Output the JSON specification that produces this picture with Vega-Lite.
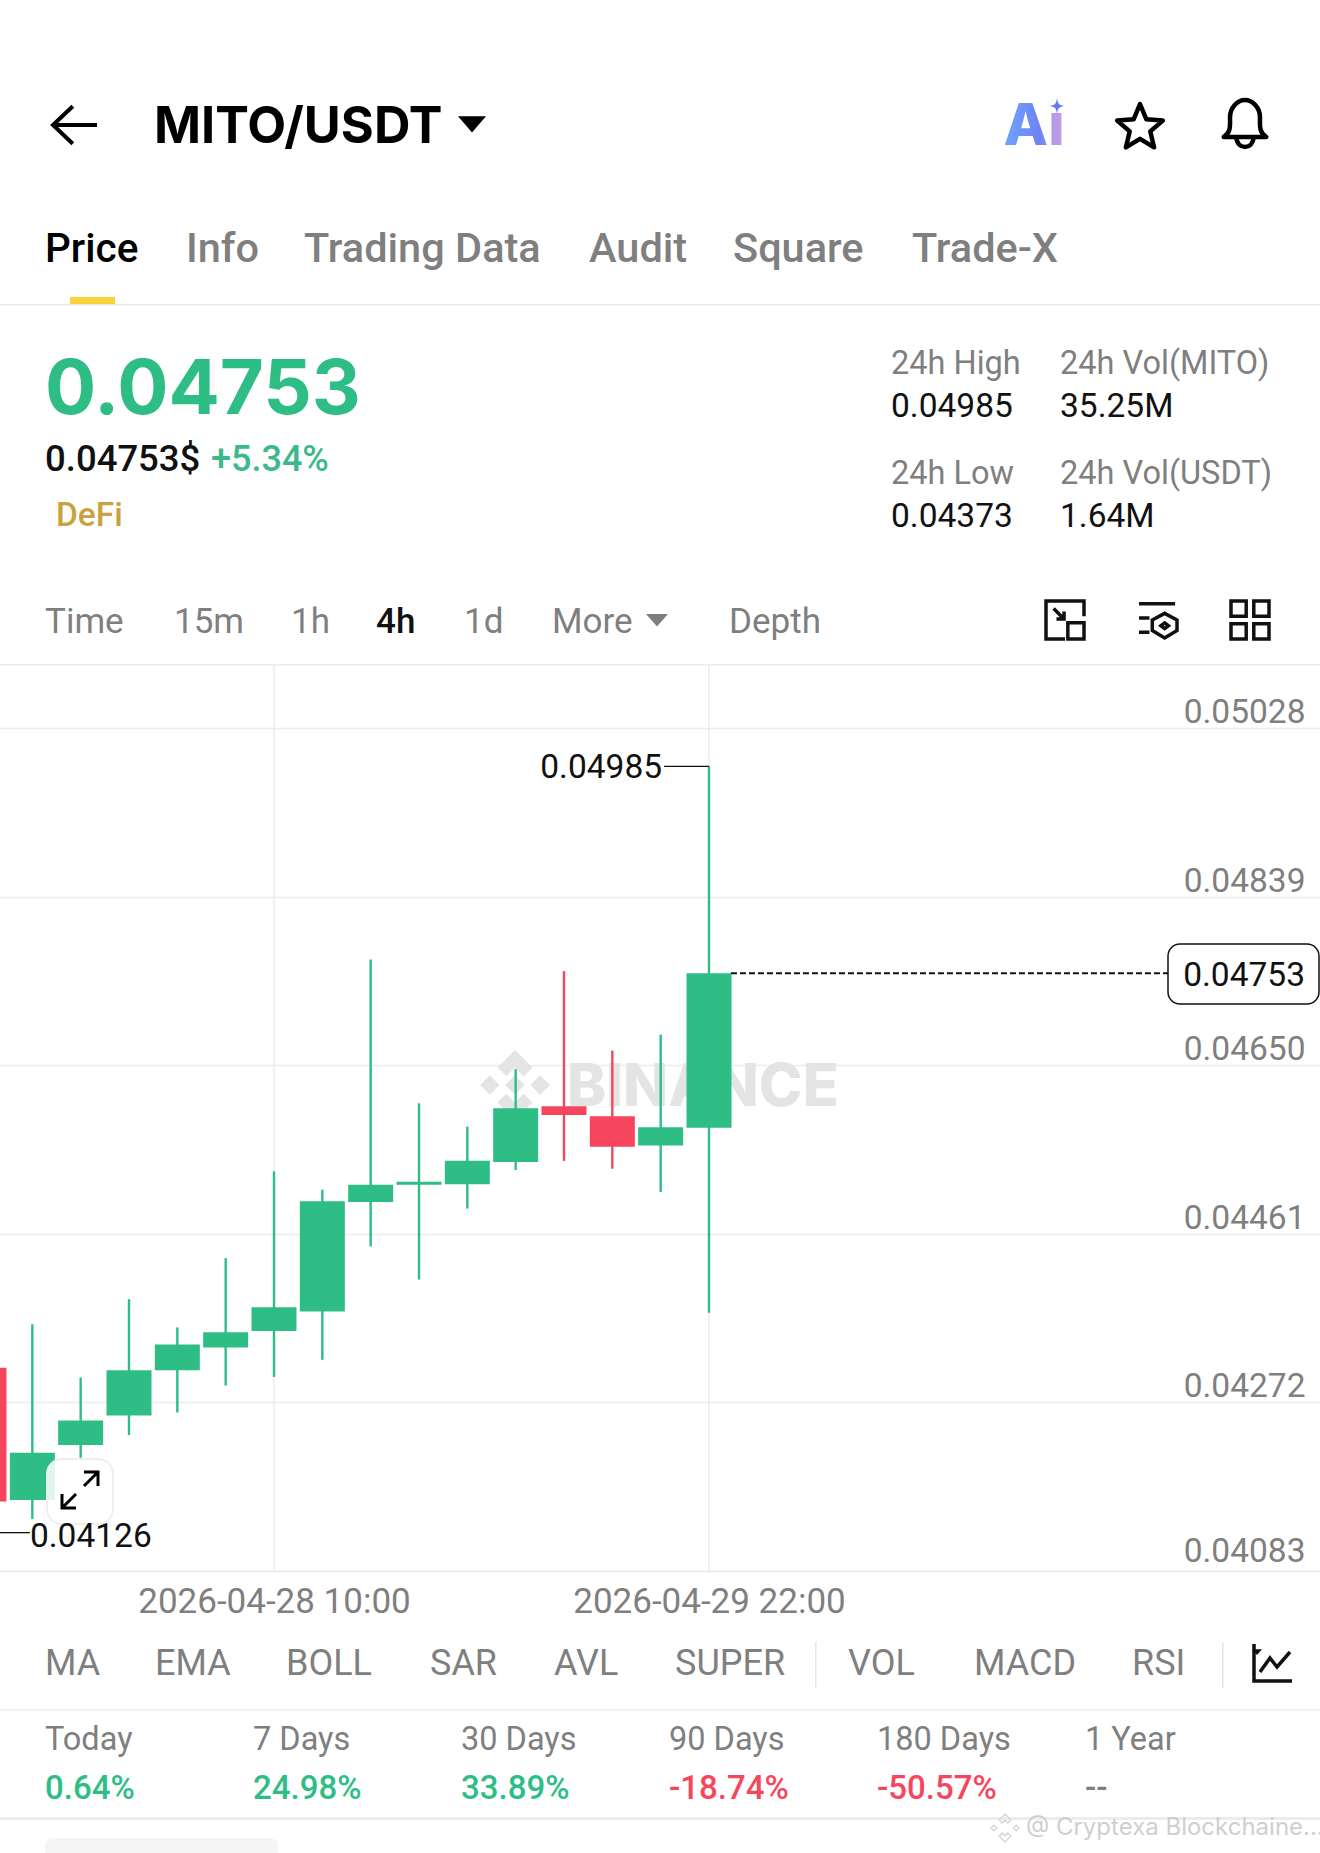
{"$schema":"https://vega.github.io/schema/vega-lite/v6.json","width":1320,"height":1853,"autosize":"none","padding":0,"background":"#ffffff","view":{"stroke":null},
"config":{"style":{
"tab":{"font":"Roboto","fontSize":41.5,"fontWeight":500,"align":"left","baseline":"middle"},
"row":{"font":"Roboto","fontSize":36,"fontWeight":400,"align":"left","baseline":"middle"},
"time":{"font":"Roboto","fontSize":35,"fontWeight":400,"align":"left","baseline":"middle"},
"gray":{"font":"Roboto","fontSize":32.5,"fontWeight":400,"align":"left","baseline":"middle"},
"small":{"font":"Roboto","fontSize":33.5,"fontWeight":400,"align":"left","baseline":"middle"}}},
"data":{"values":[{"screen":"MITO/USDT"}]},
"datasets":{
"candles":[
{"time":"2026-04-27T10:00:00Z","open":0.04311,"high":0.04330,"low":0.04126,"close":0.04161,"dir":"down"},
{"time":"2026-04-27T14:00:00Z","open":0.041626,"high":0.043596,"low":0.041413,"close":0.042155,"dir":"up"},
{"time":"2026-04-27T18:00:00Z","open":0.042244,"high":0.042999,"low":0.0421,"close":0.042518,"dir":"up"},
{"time":"2026-04-27T22:00:00Z","open":0.042573,"high":0.043877,"low":0.042354,"close":0.043081,"dir":"up"},
{"time":"2026-04-28T02:00:00Z","open":0.043081,"high":0.043561,"low":0.042607,"close":0.043369,"dir":"up"},
{"time":"2026-04-28T06:00:00Z","open":0.043335,"high":0.044337,"low":0.042909,"close":0.043506,"dir":"up"},
{"time":"2026-04-28T10:00:00Z","open":0.04352,"high":0.045311,"low":0.043005,"close":0.043788,"dir":"up"},
{"time":"2026-04-28T14:00:00Z","open":0.04374,"high":0.045105,"low":0.043198,"close":0.044975,"dir":"up"},
{"time":"2026-04-28T18:00:00Z","open":0.044968,"high":0.047686,"low":0.044467,"close":0.04516,"dir":"up"},
{"time":"2026-04-28T22:00:00Z","open":0.04516,"high":0.046073,"low":0.044097,"close":0.045195,"dir":"up"},
{"time":"2026-04-29T02:00:00Z","open":0.045167,"high":0.045812,"low":0.044893,"close":0.045428,"dir":"up"},
{"time":"2026-04-29T06:00:00Z","open":0.045414,"high":0.046457,"low":0.045325,"close":0.046018,"dir":"up"},
{"time":"2026-04-29T10:00:00Z","open":0.046039,"high":0.047555,"low":0.045428,"close":0.045943,"dir":"down"},
{"time":"2026-04-29T14:00:00Z","open":0.045929,"high":0.046663,"low":0.045339,"close":0.045586,"dir":"down"},
{"time":"2026-04-29T18:00:00Z","open":0.0456,"high":0.046842,"low":0.045078,"close":0.045805,"dir":"up"},
{"time":"2026-04-29T22:00:00Z","open":0.045799,"high":0.04985,"low":0.043726,"close":0.04753,"dir":"up"}],
"extremes":[
{"kind":"high","from":"2026-04-29T18:17:00Z","to":"2026-04-29T22:00:00Z","price":0.04985},
{"kind":"low","from":"2026-04-27T11:19:00Z","to":"2026-04-27T13:48:00Z","price":0.04126}],
"last":[{"from":"2026-04-29T23:49:00Z","to":"2026-05-01T12:00:00Z","price":0.04753}],
"gridTimes":[{"time":"2026-04-28T10:00:00Z"},{"time":"2026-04-29T22:00:00Z"}],
"periods":[
{"period":"Today","change":"0.64%","trend":"up"},
{"period":"7 Days","change":"24.98%","trend":"up"},
{"period":"30 Days","change":"33.89%","trend":"up"},
{"period":"90 Days","change":"-18.74%","trend":"down"},
{"period":"180 Days","change":"-50.57%","trend":"down"},
{"period":"1 Year","change":"--","trend":"flat"}]},
"resolve":{"scale":{"x":"independent"},"axis":{"x":"independent"}},
"layer":[
{"mark":{"type":"rect","x":0,"x2":1320,"y":304,"y2":305.5,"fill":"#ececec"},"encoding":{}},
{"mark":{"type":"rect","x":0,"x2":1320,"y":664,"y2":665.5,"fill":"#ececec"},"encoding":{}},
{"mark":{"type":"rect","x":0,"x2":1320,"y":1709,"y2":1710.5,"fill":"#ececec"},"encoding":{}},
{"mark":{"type":"rect","x":0,"x2":1320,"y":1817,"y2":1820,"fill":"#ececec"},"encoding":{}},
{"mark":{"type":"rect","x":815,"x2":816.5,"y":1642,"y2":1688,"fill":"#e4e4e4"},"encoding":{}},
{"mark":{"type":"rect","x":1222,"x2":1223.5,"y":1642,"y2":1688,"fill":"#e4e4e4"},"encoding":{}},
{"mark":{"type":"rect","x":70,"x2":115,"y":297,"y2":304,"fill":"#f9d23c"},"encoding":{}},
{"mark":{"type":"rect","x":45,"x2":278,"y":1838,"y2":1853,"fill":"#f5f5f5","cornerRadiusTopLeft":18,"cornerRadiusTopRight":18},"encoding":{}},
{"mark":{"type":"point","shape":"M-1,0 L1,0 M-0.1,-0.85 L-1,0 L-0.1,0.85","size":1936,"x":75,"y":125,"stroke":"#000000","strokeWidth":4,"opacity":1,"filled":false},"encoding":{}},
{"mark":{"type":"text","text":"MITO/USDT","x":154,"y":128,"font":"Inter","fontWeight":700,"fontSize":50.5,"fill":"#000000","align":"left","baseline":"middle"},"encoding":{}},
{"mark":{"type":"point","shape":"M-1,-0.55 L1,-0.55 L0,0.6 Z","size":784,"x":472,"y":124,"fill":"#000000","stroke":null,"filled":true,"opacity":1},"encoding":{}},
{"mark":{"type":"text","text":"Aı","x":1034,"y":128,"font":"Inter","fontWeight":800,"fontSize":58,"align":"center","baseline":"middle","fill":{"gradient":"linear","x1":0,"y1":0,"x2":1,"y2":0,"stops":[{"offset":0,"color":"#6fa4fb"},{"offset":0.6,"color":"#6f82f5"},{"offset":0.8,"color":"#b49ae8"},{"offset":1,"color":"#c09fe6"}]}},"encoding":{}},
{"mark":{"type":"point","shape":"M0,-1 C0.1,-0.25 0.25,-0.1 1,0 C0.25,0.1 0.1,0.25 0,1 C-0.1,0.25 -0.25,0.1 -1,0 C-0.25,-0.1 -0.1,-0.25 0,-1 Z","size":260,"x":1057,"y":106,"fill":"#6678ee","stroke":null,"filled":true,"opacity":1},"encoding":{}},
{"mark":{"type":"point","shape":"M0,-1 L.265,-.364 L.951,-.309 L.428,.139 L.588,.809 L0,.45 L-.588,.809 L-.428,.139 L-.951,-.309 L-.265,-.364 Z","size":2304,"x":1140,"y":128,"stroke":"#000000","strokeWidth":4.5,"strokeJoin":"round","filled":false,"opacity":1},"encoding":{}},
{"mark":{"type":"point","shape":"M-0.85,0.48 C-0.55,0.3 -0.6,0 -0.6,-0.3 C-0.6,-0.7 -0.3,-1 0,-1 C0.3,-1 0.6,-0.7 0.6,-0.3 C0.6,0 0.55,0.3 0.85,0.48 Z M-0.35,0.5 C-0.3,1 0.3,1 0.35,0.5","size":2500,"x":1245,"y":125,"stroke":"#000000","strokeWidth":4.5,"strokeJoin":"round","filled":false,"opacity":1},"encoding":{}},
{"mark":{"type":"text","style":"tab","text":"Price","x":45,"y":250,"fontSize":40.5,"fill":"#000000"},"encoding":{}},
{"mark":{"type":"text","style":"tab","text":"Info","x":186,"y":250,"fill":"#7f7f7f"},"encoding":{}},
{"mark":{"type":"text","style":"tab","text":"Trading Data","x":304,"y":250,"fill":"#7f7f7f"},"encoding":{}},
{"mark":{"type":"text","style":"tab","text":"Audit","x":589,"y":250,"fill":"#7f7f7f"},"encoding":{}},
{"mark":{"type":"text","style":"tab","text":"Square","x":733,"y":250,"fill":"#7f7f7f"},"encoding":{}},
{"mark":{"type":"text","style":"tab","text":"Trade-X","x":912,"y":250,"fill":"#7f7f7f"},"encoding":{}},
{"mark":{"type":"text","text":"0.04753","x":45,"y":391,"font":"Inter","fontWeight":700,"fontSize":76,"fill":"#2ebd85","align":"left","baseline":"middle"},"encoding":{}},
{"mark":{"type":"text","style":"small","text":"0.04753$","x":45,"y":460,"fontWeight":500,"fontSize":36.5,"fill":"#111111"},"encoding":{}},
{"mark":{"type":"text","style":"small","text":"+5.34%","x":211,"y":460,"fontWeight":500,"fontSize":36,"fill":"#3cb98a"},"encoding":{}},
{"mark":{"type":"text","style":"small","text":"DeFi","x":56,"y":516,"fontWeight":500,"fill":"#c9a23f"},"encoding":{}},
{"mark":{"type":"text","style":"gray","text":"24h High","x":891,"y":364,"fill":"#7f7f7f"},"encoding":{}},
{"mark":{"type":"text","style":"small","text":"0.04985","x":891,"y":407,"fill":"#111111"},"encoding":{}},
{"mark":{"type":"text","style":"gray","text":"24h Vol(MITO)","x":1060,"y":364,"fill":"#7f7f7f"},"encoding":{}},
{"mark":{"type":"text","style":"small","text":"35.25M","x":1060,"y":407,"fill":"#111111"},"encoding":{}},
{"mark":{"type":"text","style":"gray","text":"24h Low","x":891,"y":474,"fill":"#7f7f7f"},"encoding":{}},
{"mark":{"type":"text","style":"small","text":"0.04373","x":891,"y":517,"fill":"#111111"},"encoding":{}},
{"mark":{"type":"text","style":"gray","text":"24h Vol(USDT)","x":1060,"y":474,"fill":"#7f7f7f"},"encoding":{}},
{"mark":{"type":"text","style":"small","text":"1.64M","x":1060,"y":517,"fill":"#111111"},"encoding":{}},
{"mark":{"type":"text","style":"time","text":"Time","x":45,"y":622,"fill":"#7f7f7f"},"encoding":{}},
{"mark":{"type":"text","style":"time","text":"15m","x":174,"y":622,"fill":"#7f7f7f"},"encoding":{}},
{"mark":{"type":"text","style":"time","text":"1h","x":291,"y":622,"fill":"#7f7f7f"},"encoding":{}},
{"mark":{"type":"text","style":"time","text":"4h","x":376,"y":622,"fontWeight":500,"fill":"#111111"},"encoding":{}},
{"mark":{"type":"text","style":"time","text":"1d","x":464,"y":622,"fill":"#7f7f7f"},"encoding":{}},
{"mark":{"type":"text","style":"time","text":"More","x":552,"y":622,"fill":"#7f7f7f"},"encoding":{}},
{"mark":{"type":"point","shape":"M-1,-0.55 L1,-0.55 L0,0.6 Z","size":484,"x":657,"y":620,"fill":"#7f7f7f","stroke":null,"filled":true,"opacity":1},"encoding":{}},
{"mark":{"type":"text","style":"time","text":"Depth","x":729,"y":622,"fill":"#7f7f7f"},"encoding":{}},
{"mark":{"type":"point","shape":"M1,-0.2 L1,-1 L-1,-1 L-1,1 L0,1 M0.15,0.15 H1 V1 H0.15 Z M-0.6,-0.6 L-0.05,-0.05 M-0.05,-0.45 L-0.05,-0.05 L-0.45,-0.05","size":1444,"x":1065,"y":620,"stroke":"#111111","strokeWidth":3.5,"filled":false,"opacity":1},"encoding":{}},
{"mark":{"type":"point","shape":"M-1,-0.85 H0.9 M-1,-0.1 H-0.45 M-1,0.65 H-0.45 M0.35,-0.35 L1,0 V0.55 L0.35,0.95 L-0.3,0.55 V0 Z M0.35,0.15 L0.55,0.3 L0.35,0.45 L0.15,0.3 Z","size":1444,"x":1158,"y":620,"stroke":"#111111","strokeWidth":3.5,"filled":false,"opacity":1},"encoding":{}},
{"mark":{"type":"point","shape":"M-1,-1 H-0.2 V-0.2 H-1 Z M0.2,-1 H1 V-0.2 H0.2 Z M-1,0.2 H-0.2 V1 H-1 Z M0.2,0.2 H1 V1 H0.2 Z","size":1444,"x":1250,"y":620,"stroke":"#111111","strokeWidth":3.5,"filled":false,"opacity":1},"encoding":{}},
{"mark":{"type":"text","text":"BINANCE","x":567,"y":1088,"font":"Inter","fontWeight":800,"fontSize":59,"fill":"#e4e4e4","align":"left","baseline":"middle"},"encoding":{}},
{"mark":{"type":"point","shape":"M0,-1 L.5,-.5 L.25,-.25 L0,-.5 L-.25,-.25 L-.5,-.5 Z M0,1 L.5,.5 L.25,.25 L0,.5 L-.25,.25 L-.5,.5 Z M-1,0 L-.72,-.28 L-.44,0 L-.72,.28 Z M1,0 L.72,-.28 L.44,0 L.72,.28 Z M0,-.28 L.28,0 L0,.28 L-.28,0 Z","size":4900,"x":515,"y":1085,"fill":"#e4e4e4","stroke":null,"filled":true,"opacity":1},"encoding":{}},
{"data":{"name":"gridTimes"},"mark":{"type":"rule","stroke":"#ececec","strokeWidth":1.5},"encoding":{"x":{"field":"time","type":"temporal","scale":{"type":"utc","nice":false,"domain":[1777287600000,1777683600000],"range":[-3.92,1325.25]},"axis":{"values":[1777370400000,1777500000000],"format":"%Y-%m-%d %H:%M","title":null,"grid":false,"ticks":false,"domain":true,"domainColor":"#ececec","domainWidth":1.5,"offset":-282,"labelPadding":13,"labelFont":"Roboto","labelFontSize":35,"labelColor":"#7f7f7f","labelFlush":false,"labelOverlap":false,"labelBound":false,"labelBaseline":"top","labelLimit":500}},"y":{"datum":0.050997,"type":"quantitative","scale":{"zero":false,"nice":false,"domain":[0.037669,0.058441]},"axis":{"values":[0.05028,0.04839,0.0465,0.04461,0.04272,0.04083],"format":".5f","title":null,"orient":"right","grid":true,"gridColor":"#ececec","gridWidth":1.5,"ticks":false,"domain":false,"labelPadding":-15,"labelAlign":"right","labelOffset":{"condition":{"test":"datum.value < 0.0409","value":-20},"value":-15.5},"labelFont":"Roboto","labelFontSize":33.5,"labelColor":"#7f7f7f","labelOverlap":false,"labelBound":false,"labelFlush":false}},"y2":{"datum":0.04083}}},
{"data":{"name":"candles"},"mark":{"type":"rule","strokeWidth":2.4,"clip":true},"encoding":{"x":{"field":"time","type":"temporal","axis":null,"scale":{"type":"utc","nice":false,"domain":[1777287600000,1777683600000],"range":[-3.92,1325.25]}},"y":{"field":"high","type":"quantitative"},"y2":{"field":"low"},"color":{"field":"dir","type":"nominal","legend":null,"scale":{"domain":["up","down","flat"],"range":["#2ebd85","#f6465d","#7f7f7f"]}}}},
{"data":{"name":"candles"},"mark":{"type":"rule","strokeWidth":45,"strokeCap":"butt","clip":true},"encoding":{"x":{"field":"time","type":"temporal","axis":null,"scale":{"type":"utc","nice":false,"domain":[1777287600000,1777683600000],"range":[-3.92,1325.25]}},"y":{"field":"open","type":"quantitative"},"y2":{"field":"close"},"color":{"field":"dir","type":"nominal","legend":null}}},
{"mark":{"type":"rect","x":47,"x2":113,"y":1459,"y2":1524,"fill":"#ffffff","fillOpacity":0.85,"stroke":"#eeeeee","strokeWidth":2,"cornerRadius":15},"encoding":{}},
{"mark":{"type":"point","shape":"M0.2,-0.2 L0.9,-0.9 M0.2,-0.9 H0.9 V-0.2 M-0.2,0.2 L-0.9,0.9 M-0.9,0.2 V0.9 H-0.2","size":1600,"x":80,"y":1490,"stroke":"#000000","strokeWidth":3,"filled":false,"opacity":1},"encoding":{}},
{"data":{"name":"extremes"},"mark":{"type":"rule","stroke":"#111111","strokeWidth":1.3},"encoding":{"x":{"field":"from","type":"temporal","axis":null,"scale":{"type":"utc","nice":false,"domain":[1777287600000,1777683600000],"range":[-3.92,1325.25]}},"x2":{"field":"to"},"y":{"field":"price","type":"quantitative"}}},
{"data":{"name":"extremes"},"transform":[{"filter":"datum.kind === 'high'"}],"mark":{"type":"text","align":"right","baseline":"middle","dx":-2,"dy":2,"font":"Roboto","fontSize":33.5,"fill":"#111111"},"encoding":{"x":{"field":"from","type":"temporal","axis":null,"scale":{"type":"utc","nice":false,"domain":[1777287600000,1777683600000],"range":[-3.92,1325.25]}},"y":{"field":"price","type":"quantitative"},"text":{"field":"price","type":"quantitative","format":".5f"}}},
{"data":{"name":"extremes"},"transform":[{"filter":"datum.kind === 'low'"}],"mark":{"type":"text","align":"left","baseline":"middle","dy":4,"font":"Roboto","fontSize":33.5,"fill":"#111111"},"encoding":{"x":{"field":"to","type":"temporal","axis":null,"scale":{"type":"utc","nice":false,"domain":[1777287600000,1777683600000],"range":[-3.92,1325.25]}},"y":{"field":"price","type":"quantitative"},"text":{"field":"price","type":"quantitative","format":".5f"}}},
{"data":{"name":"last"},"mark":{"type":"rule","stroke":"#111111","strokeWidth":2,"strokeDash":[6,3]},"encoding":{"x":{"field":"from","type":"temporal","axis":null,"scale":{"type":"utc","nice":false,"domain":[1777287600000,1777683600000],"range":[-3.92,1325.25]}},"x2":{"field":"to"},"y":{"field":"price","type":"quantitative"}}},
{"mark":{"type":"rect","x":1168,"x2":1319,"y":944,"y2":1004,"fill":"#ffffff","stroke":"#111111","strokeWidth":1.5,"cornerRadius":12},"encoding":{}},
{"mark":{"type":"text","text":"0.04753","x":1305,"y":976,"align":"right","baseline":"middle","font":"Roboto","fontSize":33.5,"fill":"#111111"},"encoding":{}},
{"mark":{"type":"text","style":"row","text":"MA","x":45,"y":1664,"fill":"#7f7f7f"},"encoding":{}},
{"mark":{"type":"text","style":"row","text":"EMA","x":155,"y":1664,"fill":"#7f7f7f"},"encoding":{}},
{"mark":{"type":"text","style":"row","text":"BOLL","x":286,"y":1664,"fill":"#7f7f7f"},"encoding":{}},
{"mark":{"type":"text","style":"row","text":"SAR","x":430,"y":1664,"fill":"#7f7f7f"},"encoding":{}},
{"mark":{"type":"text","style":"row","text":"AVL","x":554,"y":1664,"fill":"#7f7f7f"},"encoding":{}},
{"mark":{"type":"text","style":"row","text":"SUPER","x":675,"y":1664,"fill":"#7f7f7f"},"encoding":{}},
{"mark":{"type":"text","style":"row","text":"VOL","x":848,"y":1664,"fill":"#7f7f7f"},"encoding":{}},
{"mark":{"type":"text","style":"row","text":"MACD","x":974,"y":1664,"fill":"#7f7f7f"},"encoding":{}},
{"mark":{"type":"text","style":"row","text":"RSI","x":1132,"y":1664,"fill":"#7f7f7f"},"encoding":{}},
{"mark":{"type":"point","shape":"M-0.9,-1 V0.85 H1 M-0.6,0.4 L-0.1,-0.3 L0.25,0.15 L0.9,-0.6","size":1600,"x":1272,"y":1664,"stroke":"#111111","strokeWidth":3.5,"filled":false,"opacity":1},"encoding":{}},
{"mark":{"type":"point","shape":"M-1,-0.55 L1,-0.55 L0,0.6 Z","size":100,"x":1257,"y":1652,"fill":"#111111","stroke":null,"filled":true,"opacity":1},"encoding":{}},
{"data":{"name":"periods"},"mark":{"type":"text","style":"gray","y":1740,"fill":"#7f7f7f"},"encoding":{"x":{"field":"period","type":"nominal","sort":null,"axis":null,"scale":{"type":"point","domain":["Today","7 Days","30 Days","90 Days","180 Days","1 Year"],"range":[45,1085],"padding":0}},"text":{"field":"period","type":"nominal"}}},
{"data":{"name":"periods"},"mark":{"type":"text","style":"small","y":1789,"fontWeight":500,"fontSize":33},"encoding":{"x":{"field":"period","type":"nominal","sort":null,"axis":null,"scale":{"type":"point","domain":["Today","7 Days","30 Days","90 Days","180 Days","1 Year"],"range":[45,1085],"padding":0}},"text":{"field":"change","type":"nominal"},"color":{"field":"trend","type":"nominal","legend":null}}},
{"mark":{"type":"point","shape":"M0,-1 L.42,-.58 L.2,-.36 L0,-.56 L-.2,-.36 L-.42,-.58 Z M0,1 L.42,.58 L.2,.36 L0,.56 L-.2,.36 L-.42,.58 Z M-1,0 L-.8,-.2 L-.6,0 L-.8,.2 Z M1,0 L.8,-.2 L.6,0 L.8,.2 Z","size":784,"x":1005,"y":1828,"stroke":"#d8d8d8","strokeWidth":1.5,"filled":false,"opacity":1},"encoding":{}},
{"mark":{"type":"text","text":"@ Cryptexa Blockchaine...","x":1026,"y":1828,"font":"Inter","fontSize":24,"fill":"#cfcfcf","align":"left","baseline":"middle"},"encoding":{}}
]}
